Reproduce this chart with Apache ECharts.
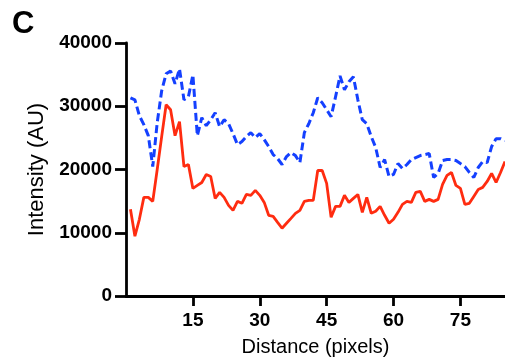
<!DOCTYPE html>
<html>
<head>
<meta charset="utf-8">
<script src="https://cdn.jsdelivr.net/npm/echarts@6/dist/echarts.min.js"></script>
<style>
html,body{margin:0;padding:0;background:#fff;}
#chart{width:505px;height:362px;}
</style>
</head>
<body>
<div id="chart"></div>
<script>
// Distance (pixels) positions
var distance = [];
for (var i = 1; i <= 85; i++) distance.push(i);

// Red (solid) intensity profile
var redValues = [
  13700, 9450, 12130, 15590, 15590, 14960, 20000, 25200, 30240, 29450,
  25350, 27560, 20470, 20790, 17010, 17480, 17950, 19210, 18900, 15430,
  16380, 15590, 14330, 13540, 14960, 14650, 16060, 15910, 16690, 15910,
  14800, 12760, 12600, 11650, 10710, 11500, 12280, 13070, 13540, 14960,
  15120, 15120, 19840, 19840, 17800, 12440, 14170, 14170, 15910, 14800,
  15430, 16060, 13230, 15590, 13070, 13390, 14170, 12760, 11500, 12130,
  13230, 14490, 14960, 14800, 16380, 16540, 14960, 15280, 14960, 15280,
  17640, 19060, 19530, 17480, 17010, 14490, 14650, 15750, 16850, 17170,
  18110, 19370, 17950, 19530, 21260
];

// Blue (dashed) intensity profile
var blueValues = [
  31340, 31020, 28500, 27090, 25350, 20470, 27400, 32440, 35120, 35590,
  33540, 35910, 31020, 31500, 34960, 25350, 28190, 26930, 27870, 28980,
  26770, 27870, 27240, 25670, 23940, 24410, 25200, 25830, 25040, 25670,
  24720, 23620, 22360, 21730, 20790, 22050, 22680, 22200, 21100, 25830,
  27240, 28980, 31340, 30550, 29450, 28350, 31500, 34800, 32600, 33860,
  34650, 31020, 27870, 27240, 25200, 23470, 20320, 21570, 18900, 19210,
  20940, 20160, 20790, 21570, 21890, 22200, 22360, 22520, 18740, 19370,
  21420, 21570, 21570, 21420, 20940, 20470, 19530, 18740, 20320, 21260,
  21100, 23620, 24880, 24880, 24570
];

var xTicks = [15, 30, 45, 60, 75];
var yTicks = [0, 10000, 20000, 30000, 40000];

function pairs(xs, ys) {
  return xs.map(function (x, k) { return [x, ys[k]]; });
}

var FONT = "'Liberation Sans', Arial, Helvetica, sans-serif";
var chart = echarts.init(document.getElementById('chart'), null, {renderer: 'canvas'});
chart.setOption({
  animation: false,
  backgroundColor: '#ffffff',
  graphic: [{
    type: 'text', left: 12, top: 9,
    style: {text: 'C', font: 'bold 31px ' + FONT, fill: '#000'}
  }],
  grid: {left: 126, right: 0, top: 43, bottom: 65, containLabel: false},
  xAxis: {
    type: 'value', min: 0, max: 85, interval: 15,
    name: 'Distance (pixels)', nameLocation: 'middle', nameGap: 41,
    nameTextStyle: {fontFamily: FONT, fontSize: 20, color: '#000'},
    axisLine: {lineStyle: {color: '#000', width: 2.8}},
    axisTick: {show: true, length: 10, lineStyle: {color: '#000', width: 2.8}, customValues: xTicks},
    axisLabel: {fontFamily: FONT, fontSize: 19, fontWeight: 'bold', color: '#000', margin: 15, customValues: xTicks,
      formatter: function (v) { return String(v); }},
    splitLine: {show: false}
  },
  yAxis: {
    type: 'value', min: 0, max: 40000, interval: 10000,
    name: 'Intensity (AU)', nameLocation: 'middle', nameGap: 73,
    nameTextStyle: {fontFamily: FONT, fontSize: 22, color: '#000'},
    axisLine: {show: true, lineStyle: {color: '#000', width: 2.8}},
    axisTick: {show: true, length: 11, lineStyle: {color: '#000', width: 2.8}, customValues: yTicks},
    axisLabel: {fontFamily: FONT, fontSize: 19, fontWeight: 'bold', color: '#000', margin: 14, customValues: yTicks,
      formatter: function (v) { return String(v); }},
    splitLine: {show: false}
  },
  series: [
    {
      type: 'line', data: pairs(distance, blueValues), symbol: 'none',
      lineStyle: {color: '#1440FF', width: 3, type: [8, 4]}, z: 2
    },
    {
      type: 'line', data: pairs(distance, redValues), symbol: 'none',
      lineStyle: {color: '#FF2C10', width: 2.8}, z: 3
    }
  ]
});
</script>
</body>
</html>
